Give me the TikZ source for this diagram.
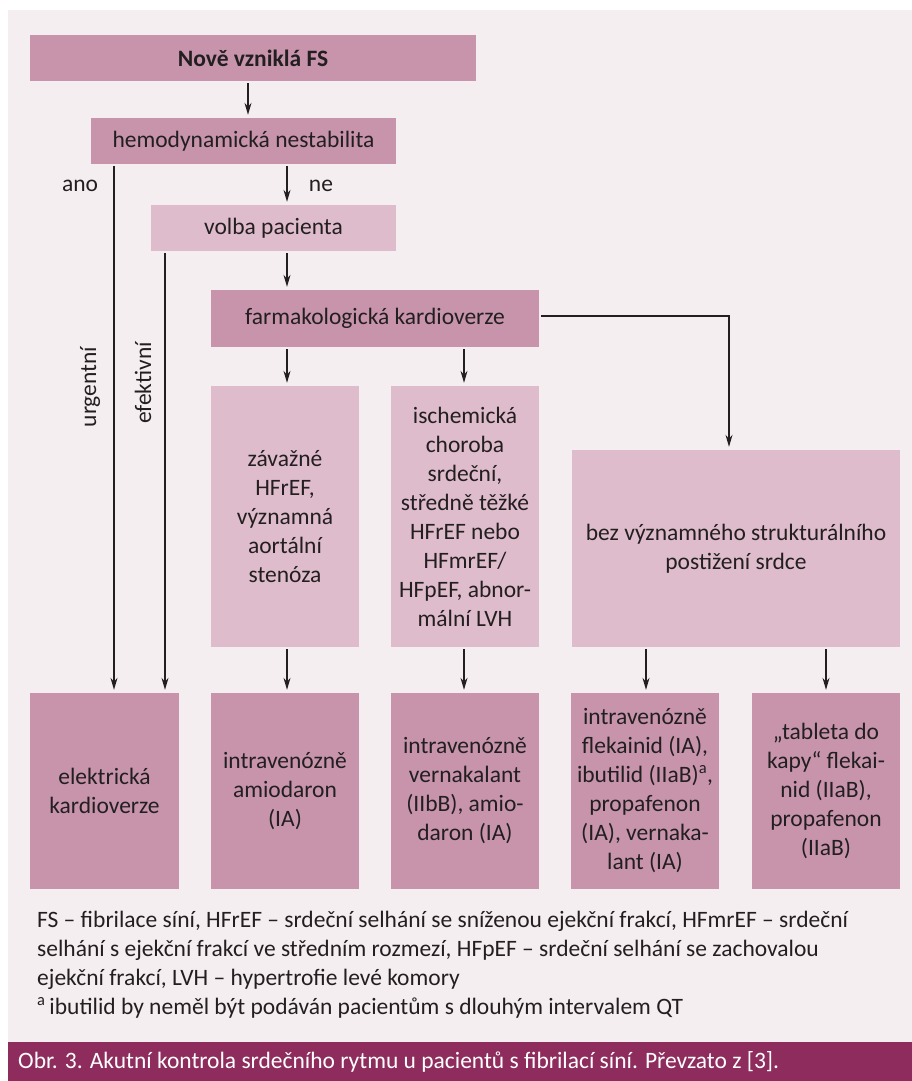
\documentclass[tikz,border=0pt]{standalone}
\usepackage{fontspec}
\setmainfont{Carlito}
\usepackage{xcolor}
\usepackage{tikz}
\usetikzlibrary{positioning,arrows.meta}

\definecolor{darkrose}{HTML}{C794AB}
\definecolor{lightrose}{HTML}{DFBCCB}
\definecolor{paper}{HTML}{F5EEF1}
\definecolor{wine}{HTML}{8E2D5D}
\definecolor{ink}{HTML}{231F20}

\begin{document}
\begin{tikzpicture}[x=1pt,y=-1pt,
darkbox/.style={fill=darkrose,rectangle,inner sep=2pt,align=center,text=ink,
    font=\fontsize{23.5}{29}\selectfont},
lightbox/.style={darkbox,fill=lightrose},
arr/.style={draw=ink,line width=1.2pt,-{Stealth[length=12pt,width=7pt]},
    shorten <=2pt,shorten >=3pt},
lbl/.style={text=ink,font=\fontsize{23.5}{29}\selectfont}]
\useasboundingbox (0,0) rectangle (912,1081);
\fill[paper] (8,10) rectangle (912,1042);
\fill[wine] (8,1042) rectangle (912,1081);

% first steps
\node (nove) [darkbox,minimum width=446pt,minimum height=46pt] at (253,58)
    {\textbf{Nově vzniklá FS}};
\node (hemo) [darkbox,minimum width=305pt,minimum height=46pt] at (243.5,141)
    {hemodynamická nestabilita};
\node (volba) [lightbox,minimum width=245pt,minimum height=46pt] at (273.5,228)
    {volba pacienta};
\node (farmak) [darkbox,minimum width=328pt,minimum height=57pt] at (375,318.5)
    {farmakologická kardioverze};

% conditions
\node (zav) [lightbox,minimum width=148pt,minimum height=261pt] at (285,516.5)
    {závažné\\ HFrEF,\\ významná\\ aortální\\ stenóza};
\node (isch) [lightbox,minimum width=148pt,minimum height=261pt] at (465,516.5)
    {ischemická\\ choroba\\ srdeční,\\ středně těžké\\ HFrEF nebo\\ HFmrEF/\\ HFpEF, abnor-\\ mální LVH};
\node (bez) [lightbox,minimum width=328pt,minimum height=197pt] at (736,548.5)
    {bez významného strukturálního\\ postižení srdce};

% treatment
\node (elek) [darkbox,minimum width=149pt,minimum height=196pt] at (104.5,791)
    {elektrická\\ kardioverze};
\node (amio) [darkbox,minimum width=148pt,minimum height=196pt] at (285,791)
    {intravenózně\\ amiodaron\\ (IA)};
\node (vern) [darkbox,minimum width=148pt,minimum height=196pt] at (465,791)
    {intravenózně\\ vernakalant\\ (IIbB), amio-\\ daron (IA)};
\node (ivfl) [darkbox,minimum width=148pt,minimum height=196pt] at (645,791)
    {intravenózně\\ flekainid (IA),\\ ibutilid (IIaB)\textsuperscript{a},\\ propafenon\\ (IA), vernaka-\\ lant (IA)};
\node (tab) [darkbox,minimum width=148pt,minimum height=196pt] at (826,791)
    {„tableta do\\ kapy“ flekai-\\ nid (IIaB),\\ propafenon\\ (IIaB)};

% columns of the connectors
\coordinate (cano) at (114,0);
\coordinate (cefe) at (165,0);
\coordinate (cmid) at (248,0);
\coordinate (cne) at (287,0);
\coordinate (cisch) at (464,0);
\coordinate (cbez) at (729,0);
\coordinate (civ) at (646,0);
\coordinate (ctab) at (826,0);

\draw[arr] (nove.south -| cmid) -- (hemo.north -| cmid);
\draw[arr] (hemo.south -| cne) -- (volba.north -| cne);
\draw[arr] (volba.south -| cne) -- (farmak.north -| cne);
\draw[arr] (hemo.south -| cano) -- (elek.north -| cano);
\draw[arr] (volba.south -| cefe) -- (elek.north -| cefe);
\draw[arr] (farmak.south -| cne) -- (zav.north -| cne);
\draw[arr] (farmak.south -| cisch) -- (isch.north -| cisch);
\draw[arr] ([yshift=2.5pt]farmak.east) -| (bez.north -| cbez);
\draw[arr] (zav.south -| cne) -- (amio.north -| cne);
\draw[arr] (isch.south -| cisch) -- (vern.north -| cisch);
\draw[arr] (bez.south -| civ) -- (ivfl.north -| civ);
\draw[arr] (bez.south -| ctab) -- (tab.north -| ctab);

% labels of the branches
\node (ano) [lbl] at (80,186) {ano};
\node (ne) [lbl] at (321,186) {ne};
\node (urg) [lbl,rotate=90] at (90,387) {urgentní};
\node (efe) [lbl,rotate=90] at (143,383) {efektivní};

% legend and caption
\node (legend) [lbl,anchor=north west,align=left,inner sep=0pt] at (37,911)
    {FS – fibrilace síní, HFrEF – srdeční selhání se sníženou ejekční frakcí, HFmrEF – srdeční\\
     selhání s ejekční frakcí ve středním rozmezí, HFpEF – srdeční selhání se zachovalou\\
     ejekční frakcí, LVH – hypertrofie levé komory\\
     \textsuperscript{a}\,ibutilid by neměl být podáván pacientům s dlouhým intervalem QT};
\node (caption) [anchor=west,text=white,inner sep=0pt,font=\fontsize{23.5}{26}\selectfont]
    at (18,1062) {Obr. 3. Akutní kontrola srdečního rytmu u pacientů s fibrilací síní. Převzato z [3].};
\end{tikzpicture}
\end{document}
